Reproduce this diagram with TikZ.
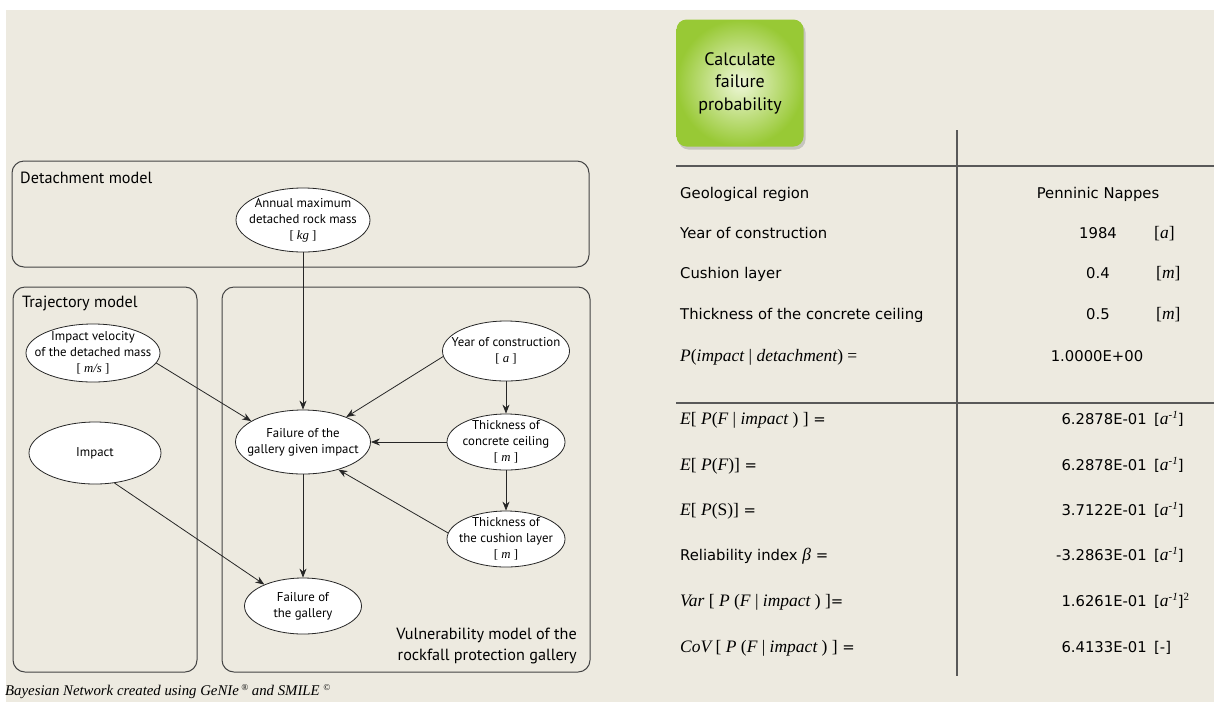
\documentclass[tikz,border=0pt]{standalone}
\usepackage{fontspec}
\setmainfont{DejaVu Sans}
\newfontfamily\myr{PT Sans}
\newfontfamily\tms{Liberation Serif}
\usetikzlibrary{arrows.meta, positioning, shapes.geometric, shadows}

\definecolor{paper}{HTML}{EDEAE0}
\definecolor{btngreen}{HTML}{98C935}
\definecolor{btnlight}{HTML}{EEF7D8}
\definecolor{boxline}{HTML}{444444}

\newcommand{\tmi}[1]{{\tms\fontsize{17.5}{20}\selectfont\itshape #1}}
\newcommand{\tmu}[1]{{\tms\fontsize{17.5}{20}\selectfont #1}}
\newcommand{\perA}{[\tmi{a}\raisebox{6pt}{\tms\itshape\fontsize{11}{11}\selectfont -1}]}

\begin{document}
\begin{tikzpicture}[x=1pt,y=-1pt,>={Stealth[length=9pt,width=7pt]},
    netnode/.style={draw=black!85, ellipse, fill=white, line width=0.8pt, align=center,
      inner xsep=-40pt, inner ysep=-20pt, font=\myr\fontsize{12.8}{16}\selectfont},
    groupbox/.style={draw=boxline, rounded corners=12pt, line width=1pt},
    grouplabel/.style={font=\myr\fontsize{16.2}{21}\selectfont, inner sep=0pt},
    link/.style={->, line width=0.8pt, draw=black!85},
    tabline/.style={draw=black!65, line width=1.3pt},
    tabtext/.style={font=\fontsize{14.8}{18}\selectfont, inner sep=0pt, anchor=base west},
    tabval/.style={font=\fontsize{14.8}{18}\selectfont, inner sep=0pt, anchor=base},
    tabnum/.style={font=\fontsize{14.8}{18}\selectfont, inner sep=0pt, anchor=base east}]
  % page and background
  \useasboundingbox (0,0) rectangle (1214,702);
  \fill[white] (0,0) rectangle (1214,702);
  \fill[paper] (6,10) rectangle (1214,702);

  % button
  \node[rounded corners=10pt, minimum width=127, minimum height=127, inner sep=0pt,
    inner color=btnlight, outer color=btngreen,
    drop shadow={shadow xshift=2pt, shadow yshift=-3pt, opacity=0.35},
    align=center, font=\myr\fontsize{18}{22.5}\selectfont] (calcbtn) at (740,83)
    {Calculate\\failure\\probability};

  % model groups
  \draw[groupbox] (12,161) rectangle (589,267);
  \draw[groupbox] (13,287) rectangle (197,672);
  \draw[groupbox] (222,287) rectangle (590,672);
  \node[grouplabel, anchor=base west] (detachlbl) at (20,183) {Detachment model};
  \node[grouplabel, anchor=base west] (trajlbl) at (22,307) {Trajectory model};
  \node[grouplabel, anchor=south east, align=right] (vulnlbl) at (577,664)
    {Vulnerability model of the\\rockfall protection gallery};

  % network
  \node[netnode, minimum width=134, minimum height=64] (rockmass) at (303,220)
    {Annual maximum\\detached rock mass\\{\tms[ \textit{kg} ]}};
  \node[netnode, minimum width=134, minimum height=58] (velocity) at (93,353)
    {Impact velocity\\of the detached mass\\{\tms[ \textit{m/s} ]}};
  \node[netnode, minimum width=132, minimum height=62] (impact) at (95,453) {Impact};
  \node[netnode, minimum width=127, minimum height=60] (year) at (506,351)
    {Year of construction\\{\tms[ \textit{a} ]}};
  \node[netnode, minimum width=135, minimum height=64] (fgi) at (303,442)
    {Failure of the\\gallery given impact};
  \node[netnode, minimum width=118, minimum height=56] (ceiling) at (506,442)
    {Thickness of\\concrete ceiling\\{\tms[ \textit{m} ]}};
  \node[netnode, minimum width=118, minimum height=56] (cushion) at (506,539)
    {Thickness of\\the cushion layer\\{\tms[ \textit{m} ]}};
  \node[netnode, minimum width=117, minimum height=56] (fail) at (303,606)
    {Failure of\\the gallery};

  \draw[link] (rockmass) -- (fgi);
  \draw[link] (velocity.-9) -- (fgi.158);
  \draw[link] (year.185) -- (fgi.30);
  \draw[link] (year) -- (ceiling);
  \draw[link] (ceiling) -- (fgi);
  \draw[link] (ceiling) -- (cushion);
  \draw[link] (cushion.174) -- (fgi.-38);
  \draw[link] (fgi) -- (fail);
  \draw[link] (impact.-57) -- (fail.151);

  \node[inner sep=0pt, anchor=base west, font=\tms\itshape\fontsize{14.8}{17}\selectfont] (caption) at (5,695)
    {Bayesian Network created using GeNIe\,\raisebox{5pt}{\fontsize{9}{9}\selectfont ®} and SMILE \raisebox{5pt}{\fontsize{9}{9}\selectfont ©}};

  % result table
  \draw[tabline] (676,166) -- (1214,166);
  \draw[tabline] (676,403) -- (1214,403);
  \draw[tabline] (957,130) -- (957,676);

  \node[tabtext] (georeg) at (680,198) {Geological region};
  \node[tabval] (georegval) at (1098,198) {Penninic Nappes};
  \node[tabtext] (yearlbl) at (680,238) {Year of construction};
  \node[tabval] (yearval) at (1098,238) {1984};
  \node[tabtext] (yearunit) at (1154,238) {\tmu{[}\tmi{a}\tmu{]}};
  \node[tabtext] (cushlbl) at (680,278) {Cushion layer};
  \node[tabval] (cushval) at (1098,278) {0.4};
  \node[tabtext] (cushunit) at (1156,278) {\tmu{[}\tmi{m}\tmu{]}};
  \node[tabtext] (ceillbl) at (680,319) {Thickness of the concrete ceiling};
  \node[tabval] (ceilval) at (1098,319) {0.5};
  \node[tabtext] (ceilunit) at (1156,319) {\tmu{[}\tmi{m}\tmu{]}};
  \node[tabtext] (pimplbl) at (680,361) {\tmi{P}\tmu{(}\tmi{impact}\tmu{ | }\tmi{detachment}\tmu{) =}};
  \node[tabval] (pimpval) at (1097,361) {1.0000E+00};

  \node[tabtext] (epfilbl) at (680,424) {\tmi{E}\tmu{[ }\tmi{P}\tmu{(}\tmi{F}\tmu{ | }\tmi{impact}\tmu{ ) ]} =};
  \node[tabnum] (epfival) at (1147,424) {6.2878E-01};
  \node[tabtext] (epfiunit) at (1154,424) {\perA};
  \node[tabtext] (epflbl) at (680,470) {\tmi{E}\tmu{[ }\tmi{P}\tmu{(}\tmi{F}\tmu{)]} =};
  \node[tabnum] (epfval) at (1147,470) {6.2878E-01};
  \node[tabtext] (epfunit) at (1154,470) {\perA};
  \node[tabtext] (epslbl) at (680,515) {\tmi{E}\tmu{[ }\tmi{P}\tmu{(S)]} =};
  \node[tabnum] (epsval) at (1147,515) {3.7122E-01};
  \node[tabtext] (epsunit) at (1154,515) {\perA};
  \node[tabtext] (betalbl) at (680,560) {Reliability index \tmi{β} =};
  \node[tabnum] (betaval) at (1147,560) {-3.2863E-01};
  \node[tabtext] (betaunit) at (1154,560) {\perA};
  \node[tabtext] (varlbl) at (680,606) {\tmi{Var}\tmu{ [ }\tmi{P}\tmu{ (}\tmi{F}\tmu{ | }\tmi{impact}\tmu{ ) ]}=};
  \node[tabnum] (varval) at (1147,606) {1.6261E-01};
  \node[tabtext] (varunit) at (1154,606) {\perA\raisebox{6pt}{\tms\fontsize{11}{11}\selectfont 2}};
  \node[tabtext] (covlbl) at (680,652) {\tmi{CoV}\tmu{ [ }\tmi{P}\tmu{ (}\tmi{F}\tmu{ | }\tmi{impact}\tmu{ ) ]} =};
  \node[tabnum] (covval) at (1147,652) {6.4133E-01};
  \node[tabtext] (covunit) at (1154,652) {[-]};
\end{tikzpicture}
\end{document}
